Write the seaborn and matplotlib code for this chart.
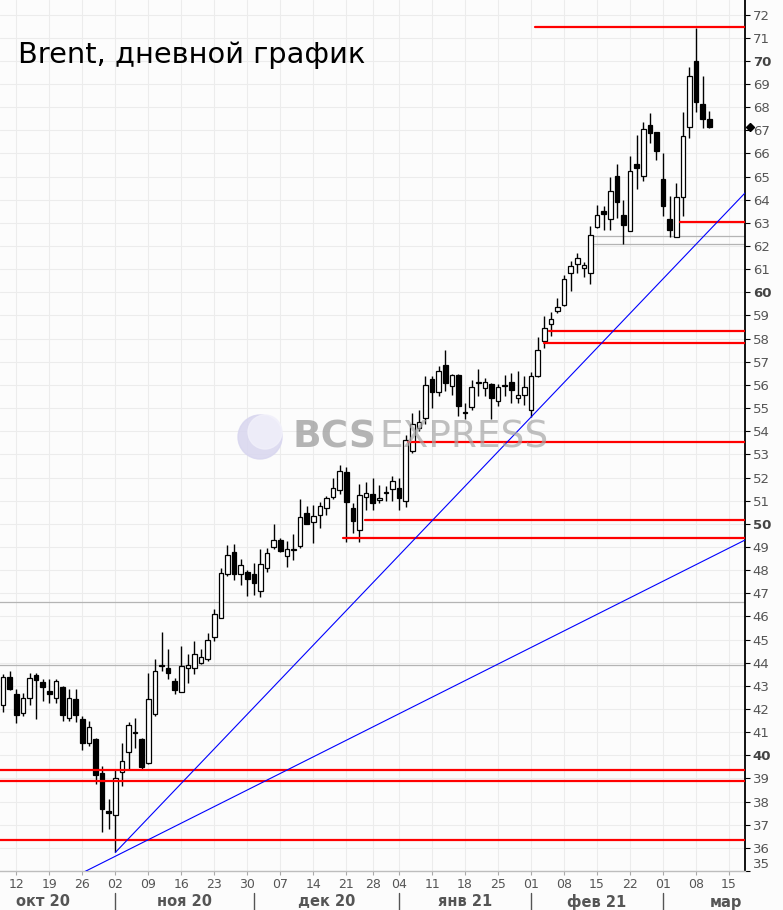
import numpy as np
import pandas as pd
import matplotlib
matplotlib.use("Agg")
import matplotlib.pyplot as plt
import matplotlib.transforms as mtransforms
from matplotlib.patches import Ellipse
import seaborn as sns

# daily Brent candles
dates = [
    "2020-10-08", "2020-10-09",
    "2020-10-12", "2020-10-13", "2020-10-14", "2020-10-15", "2020-10-16",
    "2020-10-19", "2020-10-20", "2020-10-21", "2020-10-22", "2020-10-23",
    "2020-10-26", "2020-10-27", "2020-10-28", "2020-10-29", "2020-10-30",
    "2020-11-02", "2020-11-03", "2020-11-04", "2020-11-05", "2020-11-06",
    "2020-11-09", "2020-11-10", "2020-11-11", "2020-11-12", "2020-11-13",
    "2020-11-16", "2020-11-17", "2020-11-18", "2020-11-19", "2020-11-20",
    "2020-11-23", "2020-11-24", "2020-11-25", "2020-11-26", "2020-11-27",
    "2020-11-30", "2020-12-01", "2020-12-02", "2020-12-03", "2020-12-04",
    "2020-12-07", "2020-12-08", "2020-12-09", "2020-12-10", "2020-12-11",
    "2020-12-14", "2020-12-15", "2020-12-16", "2020-12-17", "2020-12-18",
    "2020-12-21", "2020-12-22", "2020-12-23", "2020-12-24",
    "2020-12-28", "2020-12-29", "2020-12-30", "2020-12-31",
    "2021-01-04", "2021-01-05", "2021-01-06", "2021-01-07", "2021-01-08",
    "2021-01-11", "2021-01-12", "2021-01-13", "2021-01-14", "2021-01-15",
    "2021-01-18", "2021-01-19", "2021-01-20", "2021-01-21", "2021-01-22",
    "2021-01-25", "2021-01-26", "2021-01-27", "2021-01-28", "2021-01-29",
    "2021-02-01", "2021-02-02", "2021-02-03", "2021-02-04", "2021-02-05",
    "2021-02-08", "2021-02-09", "2021-02-10", "2021-02-11", "2021-02-12",
    "2021-02-15", "2021-02-16", "2021-02-17", "2021-02-18", "2021-02-19",
    "2021-02-22", "2021-02-23", "2021-02-24", "2021-02-25", "2021-02-26",
    "2021-03-01", "2021-03-02", "2021-03-03", "2021-03-04", "2021-03-05",
    "2021-03-08", "2021-03-09", "2021-03-10",
]
opens = [
    42.18, 43.39,
    42.66, 41.84, 42.49, 43.48, 43.15,
    42.76, 42.47, 42.96, 41.62, 42.44,
    41.58, 40.53, 40.69, 39.22, 37.58,
    37.42, 39.28, 40.14, 40.98, 40.69,
    39.68, 41.78, 43.84, 43.78, 43.23,
    42.75, 43.78, 43.78, 44.00, 44.14,
    45.12, 45.94, 47.84, 48.79, 47.85,
    47.92, 47.84, 47.09, 48.07, 49.00,
    49.28, 48.60, 48.87, 49.03, 50.47,
    50.08, 50.36, 50.69, 51.16, 51.48,
    52.24, 50.69, 49.75, 51.16,
    51.29, 51.02, 51.35, 51.51,
    51.55, 50.98, 53.13, 54.14, 54.57,
    56.27, 55.69, 56.87, 55.94, 56.44,
    54.80, 55.03, 56.08, 55.86, 56.05,
    55.29, 55.94, 56.11, 55.43, 55.58,
    54.93, 56.40, 57.88, 58.63, 59.18,
    59.46, 60.83, 61.22, 61.04, 60.83,
    62.84, 63.53, 63.16, 65.03, 63.35,
    62.67, 65.55, 65.04, 67.23, 66.91,
    64.90, 63.17, 62.37, 64.10, 67.16,
    69.99, 68.14, 67.49,
]
highs = [
    43.49, 43.64,
    42.85, 42.70, 43.54, 43.54, 43.28,
    43.28, 43.31, 43.00, 42.85, 42.85,
    41.69, 41.48, 40.76, 39.54, 38.13,
    39.42, 40.51, 41.43, 41.59, 40.76,
    43.54, 44.17, 45.33, 44.57, 43.35,
    44.72, 44.36, 44.93, 44.60, 45.29,
    46.30, 48.07, 49.10, 49.13, 48.48,
    48.02, 48.31, 48.92, 48.96, 49.97,
    49.39, 49.25, 49.58, 51.07, 50.79,
    50.83, 50.93, 51.19, 51.98, 52.53,
    52.45, 50.90, 51.70, 51.80,
    52.00, 51.69, 51.62, 52.05,
    51.98, 53.85, 54.79, 54.93, 56.37,
    56.37, 56.80, 57.49, 56.48, 56.46,
    55.22, 56.22, 56.68, 56.30, 56.07,
    56.05, 56.44, 56.51, 56.61, 56.37,
    56.54, 58.09, 58.96, 59.14, 59.75,
    60.76, 61.36, 61.69, 61.33, 62.87,
    63.78, 63.74, 65.00, 65.53, 63.99,
    65.89, 66.80, 67.35, 67.73, 66.91,
    66.00, 64.17, 64.74, 67.78, 69.75,
    71.43, 69.35, 67.84,
]
lows = [
    41.88, 42.80,
    41.38, 41.70, 42.16, 41.58, 42.33,
    42.27, 42.27, 41.48, 41.48, 41.44,
    40.23, 40.40, 38.75, 36.69, 36.80,
    35.80, 38.67, 39.42, 40.33, 39.39,
    39.61, 41.70, 43.64, 43.31, 42.63,
    42.75, 43.13, 43.49, 43.93, 44.07,
    44.93, 45.94, 47.74, 47.59, 47.35,
    46.87, 46.92, 46.85, 47.90, 48.89,
    48.80, 48.14, 48.43, 48.96, 49.97,
    49.18, 49.82, 50.40, 51.05, 51.30,
    49.20, 49.60, 49.23, 50.58,
    50.60, 50.90, 51.00, 50.97,
    50.61, 50.73, 53.06, 54.00, 54.33,
    55.00, 55.53, 55.75, 55.58, 54.67,
    54.53, 54.90, 55.53, 55.50, 54.53,
    55.07, 55.53, 55.22, 55.22, 55.15,
    54.61, 56.34, 57.60, 58.10, 59.10,
    59.39, 60.04, 60.83, 60.68, 60.35,
    62.80, 62.70, 62.70, 63.20, 62.08,
    62.67, 64.47, 64.79, 66.47, 65.72,
    63.30, 62.37, 62.37, 63.30, 66.68,
    67.81, 67.12, 67.10,
]
closes = [
    43.39, 42.87,
    41.74, 42.49, 43.35, 43.25, 42.95,
    42.64, 43.22, 41.74, 42.49, 41.75,
    40.52, 41.23, 39.16, 37.67, 37.52,
    39.03, 39.75, 41.29, 41.02, 39.51,
    42.44, 43.65, 43.88, 43.56, 42.82,
    43.85, 43.88, 44.38, 44.26, 44.97,
    46.11, 47.88, 48.64, 47.84, 48.21,
    47.62, 47.45, 48.28, 48.74, 49.28,
    48.82, 48.89, 48.89, 50.28, 49.99,
    50.33, 50.76, 51.12, 51.55, 52.27,
    50.95, 50.11, 51.23, 51.33,
    50.90, 51.12, 51.37, 51.84,
    51.12, 53.64, 54.33, 54.41, 56.01,
    55.68, 56.61, 56.08, 56.44, 55.10,
    54.82, 55.89, 56.12, 56.12, 55.43,
    55.91, 55.98, 55.79, 55.58, 55.91,
    56.40, 57.52, 58.48, 58.84, 59.36,
    60.57, 61.12, 61.48, 61.16, 62.46,
    63.32, 63.37, 64.38, 63.92, 62.92,
    65.26, 65.39, 67.04, 66.90, 66.12,
    63.71, 62.70, 64.11, 66.76, 69.36,
    68.24, 67.49, 67.16,
]
last_price = 67.15

# horizontal levels (price, start in trading days from 12 Oct; None = from the left edge)
red_levels = [71.46, 63.02, 58.34, 57.81, 53.52, 50.15, 49.38, 39.38, 38.87, 36.33]
red_starts = [78.6, 100.56, 80.7, 79.95, 59.35, 52.76, 49.55, None, None, None]
gray_levels = [62.44, 62.08, 46.63, 43.88]
gray_starts = [87.38, 87.53, None, None]

# trend lines, two anchor points each
trend_a = [("2020-11-02", 35.80), ("2021-03-17", 64.17)]
trend_b = [("2020-10-26", 34.92), ("2021-03-17", 49.24)]

month_names = ["окт 20", "ноя 20", "дек 20", "янв 21", "фев 21", "мар"]

# trading calendar, holidays skipped
cal = pd.bdate_range("2020-10-01", "2021-04-01")
cal = cal.drop(pd.to_datetime(["2020-12-25", "2021-01-01"]))
origin = cal.get_loc(pd.Timestamp("2020-10-12"))


def pos(d):
    return cal.get_loc(pd.Timestamp(d)) - origin


df = pd.DataFrame({"date": pd.to_datetime(dates), "open": opens, "high": highs,
                   "low": lows, "close": closes})
df["x"] = [pos(d) for d in dates]

sns.set_style("whitegrid", {"axes.facecolor": "#fcfcfc", "grid.color": "#ececec",
                            "axes.edgecolor": "#bdbdbd"})
plt.rcParams["font.family"] = ["DejaVu Sans"]

fig = plt.figure(figsize=(7.83, 9.10), dpi=100, facecolor="#fcfcfc")
ax = fig.add_axes([0, 39 / 910, 745 / 783, 871 / 910])
x0, x1 = -2.47, 110.41
ax.set_xlim(x0, x1)
ax.set_ylim(35.03, 72.63)

# candles
ax.vlines(df["x"], df["low"], df["high"], color="black", lw=1.0, zorder=3)
up = df["close"] >= df["open"]
body = (df["close"] - df["open"]).abs().clip(lower=0.04)
bottom = df[["open", "close"]].min(axis=1)
ax.bar(df["x"][up], body[up], bottom=bottom[up], width=0.72, color="white",
       edgecolor="black", lw=0.9, zorder=4)
ax.bar(df["x"][~up], body[~up], bottom=bottom[~up], width=0.72, color="black",
       edgecolor="black", lw=0.9, zorder=4)

# levels
for lvl, st in zip(red_levels, red_starts):
    ax.plot([x0 - 1 if st is None else st, x1 + 1], [lvl, lvl], color="#ff0000", lw=1.6, zorder=5)
for lvl, st in zip(gray_levels, gray_starts):
    ax.plot([x0 - 1 if st is None else st, x1 + 1], [lvl, lvl], color="#b4b4b4", lw=0.9, zorder=2)

for (da, pa), (db, pb) in [trend_a, trend_b]:
    xa, xb = pos(da), pos(db)
    k = (pb - pa) / (xb - xa)
    ax.plot([xa, x1 + 1], [pa, pa + k * (x1 + 1 - xa)], color="#0000ff", lw=0.8, zorder=5)

# last price marker
ax.plot([x1 + 0.75], [last_price], marker="D", ms=4.5, color="black", clip_on=False, zorder=6)

# y axis on the right
ax.yaxis.tick_right()
yt = list(range(35, 73))
ax.set_yticks(yt)
ax.set_yticklabels([str(v) for v in yt])
for lab, v in zip(ax.get_yticklabels(), yt):
    if v % 10 == 0:
        lab.set_fontweight("bold")
        lab.set_color("#444444")
    else:
        lab.set_color("#555555")
    if v == 35:
        lab.set_verticalalignment("bottom")
ax.tick_params(axis="y", which="both", right=True, length=3.5, width=0.8, color="black",
               labelsize=9.5, pad=2)

# week ticks
weeks = pd.Series(cal).groupby(pd.Series(cal).dt.to_period("W")).first()
wpos = [cal.get_loc(d) - origin for d in weeks]
wlab = [d.strftime("%d") for d in weeks]
keep = [i for i, p in enumerate(wpos) if x0 < p < x1]
ax.set_xticks([wpos[i] for i in keep])
ax.set_xticklabels([wlab[i] for i in keep])
ax.tick_params(axis="x", bottom=True, length=3, width=0.8, color="#aaaaaa",
               labelsize=9, labelcolor="#555555", pad=2)

ax.grid(True, color="#ececec", lw=0.8)
ax.set_axisbelow(True)
for s in ["left", "top"]:
    ax.spines[s].set_visible(False)
ax.spines["right"].set_color("black")
ax.spines["right"].set_linewidth(1.3)
ax.spines["bottom"].set_color("#bdbdbd")
ax.spines["bottom"].set_linewidth(1.0)

# month row
trans = mtransforms.blended_transform_factory(ax.transData, fig.transFigure)
months = pd.Series(cal).groupby(pd.Series(cal).dt.to_period("M")).first()
mpos = [cal.get_loc(d) - origin for d in months]
for i, name in enumerate(month_names):
    a, b = mpos[i], mpos[i + 1]
    if a > x0:
        ax.plot([a, a], [0, 17 / 910], color="#555555", lw=1.0, transform=trans, clip_on=False)
    c = min((a + b) / 2, x1 - 2.9)
    ax.text(c, 8 / 910, name, transform=trans, ha="center", va="center",
            fontsize=10.5, fontweight="bold", color="#555555")

# title and watermark
fig.text(18 / 783, 1 - 55 / 910, "Brent, дневной график", fontsize=20.8, va="center",
         color="black")
fig.patches.append(Ellipse((260 / 783, 1 - 437 / 910), 44 / 783, 44 / 910,
                           transform=fig.transFigure, color="#d8d6ef", alpha=0.85, zorder=10))
fig.patches.append(Ellipse((265 / 783, 1 - 432 / 910), 34 / 783, 34 / 910,
                           transform=fig.transFigure, color="#f1f0fa", alpha=0.85, zorder=10))
fig.text(292 / 783, 1 - 437 / 910, "BCS", fontsize=27, fontweight="bold", color="#9c9c9c",
         alpha=0.75, va="center", zorder=11)
fig.text(379 / 783, 1 - 437 / 910, "EXPRESS", fontsize=27, color="#a6a6a6",
         alpha=0.7, va="center", zorder=11)

fig.savefig("out.png", dpi=100, facecolor=fig.get_facecolor())
